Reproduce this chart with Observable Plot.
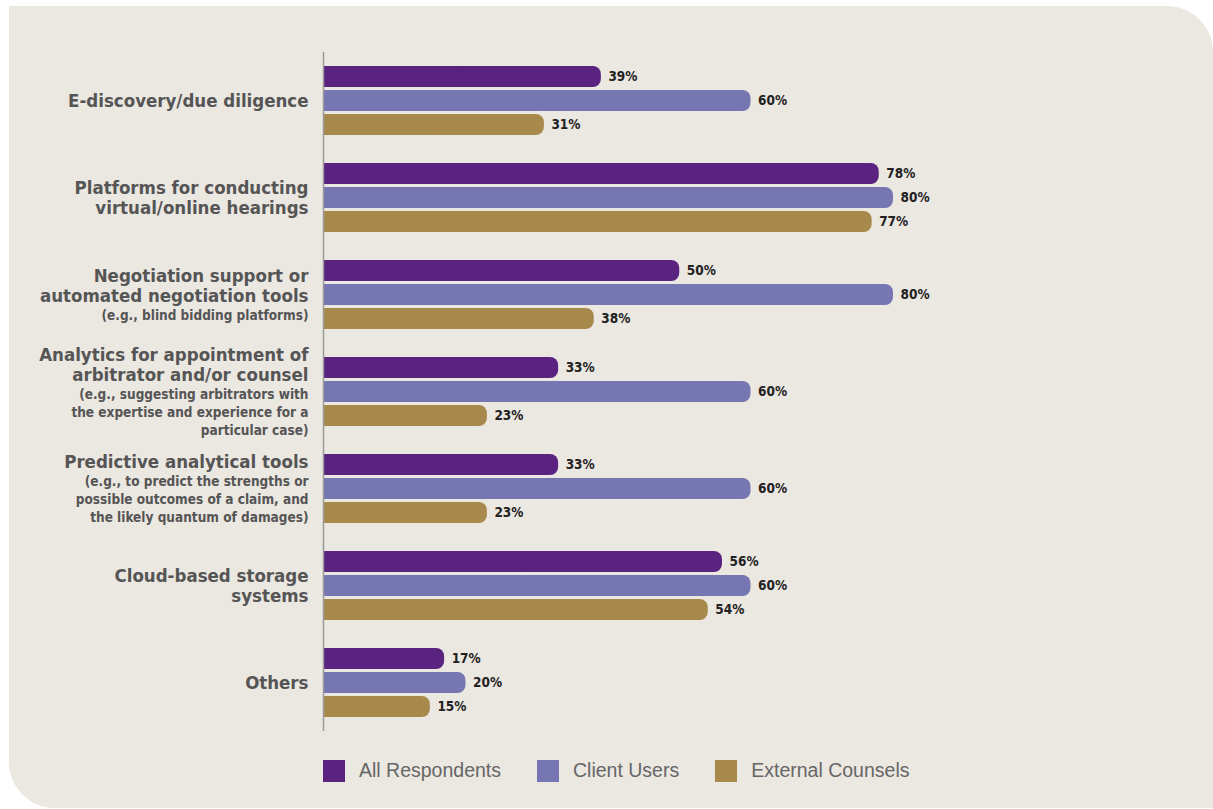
<!DOCTYPE html>
<html>
<head>
<meta charset="utf-8">
<script src="https://cdn.jsdelivr.net/npm/d3@7"></script>
<script src="https://cdn.jsdelivr.net/npm/@observablehq/plot@0.6"></script>
<style>
  html, body { margin: 0; padding: 0; background: #ffffff; }
  #wrap { position: relative; width: 1213px; height: 809px; overflow: hidden; }
  #panel { position: absolute; left: 9px; top: 6px; width: 1204px; height: 802px;
           background: #ebe7e1; border-radius: 0 46px 0 46px; }
  #chart { position: absolute; left: 0; top: 0; }
  #legend { position: absolute; left: 323px; top: 759px; display: flex; align-items: center;
            font-family: "Liberation Sans", Arial, sans-serif; font-size: 19.5px; color: #666; }
  .item { display: flex; align-items: center; margin-right: 36px; }
  .sw { width: 22px; height: 22px; margin-right: 14px; }
</style>
</head>
<body>
<div id="wrap">
  <div id="panel"></div>
  <div id="chart"></div>
  <div id="legend"></div>
</div>
<script>
// ---- data ----
const categoryTitles = [
  "E-discovery/due diligence",
  "Platforms for conducting\nvirtual/online hearings",
  "Negotiation support or\nautomated negotiation tools",
  "Analytics for appointment of\narbitrator and/or counsel",
  "Predictive analytical tools",
  "Cloud-based storage\nsystems",
  "Others"
];
const categoryNotes = [
  "",
  "",
  "(e.g., blind bidding platforms)",
  "(e.g., suggesting arbitrators with\nthe expertise and experience for a\nparticular case)",
  "(e.g., to predict the strengths or\npossible outcomes of a claim, and\nthe likely quantum of damages)",
  "",
  ""
];
const seriesNames = ["All Respondents", "Client Users", "External Counsels"];
const allRespondents = [39, 78, 50, 33, 33, 56, 17];
const clientUsers = [60, 80, 80, 60, 60, 60, 20];
const externalCounsels = [31, 77, 38, 23, 23, 54, 15];
const seriesColors = ["#5a2380", "#7676b2", "#a8894c"];

// ---- build table ----
const seriesValues = [allRespondents, clientUsers, externalCounsels];
const rows = [];
categoryTitles.forEach((cat, i) => {
  seriesNames.forEach((s, j) => rows.push({cat, series: s, value: seriesValues[j][i]}));
});

const FONT_B = '"DejaVu Sans Condensed", "Liberation Sans Narrow", sans-serif';
const titleLH = 20.5, noteLH = 18;

// label marks: one per line, vertically centered on each group
const labelMarks = [];
categoryTitles.forEach((cat, i) => {
  const tl = cat.split("\n");
  const nl = categoryNotes[i] ? categoryNotes[i].split("\n") : [];
  const H = tl.length * titleLH + nl.length * noteLH;
  let off = -H / 2;
  const lines = [
    ...tl.map(t => ({t, size: 18.5, lh: titleLH})),
    ...nl.map(t => ({t, size: 13.5, lh: noteLH}))
  ];
  lines.forEach(L => {
    const center = off + L.lh / 2;
    off += L.lh;
    labelMarks.push(Plot.text(rows, {
      filter: d => d.cat === cat && d.series === seriesNames[0],
      fy: "cat",
      frameAnchor: "left",
      textAnchor: "end",
      lineAnchor: "middle",
      dx: -15,
      dy: center,
      text: () => L.t,
      fontSize: L.size,
      fontWeight: "bold",
      fill: "#555"
    }));
  });
});

const chart = Plot.plot({
  width: 1213,
  height: 745,
  marginTop: 49,
  marginBottom: 11,
  marginLeft: 323,
  marginRight: 320,
  style: {background: "transparent", fontFamily: FONT_B, overflow: "visible"},
  x: {domain: [0, 80], axis: null},
  y: {domain: seriesNames, paddingInner: 0.12, paddingOuter: 0.517, axis: null},
  fy: {domain: categoryTitles, padding: 0, axis: null},
  color: {domain: seriesNames, range: seriesColors},
  marks: [
    Plot.barX(rows, {fy: "cat", y: "series", x: "value", fill: "series", rx: 8}),
    Plot.barX(rows, {fy: "cat", y: "series", x: d => d.value / 2, fill: "series"}),
    Plot.ruleX([0], {stroke: "#9a9a9a", strokeWidth: 1.5}),
    Plot.text(rows, {
      fy: "cat", y: "series", x: "value",
      text: d => d.value + "%",
      textAnchor: "start", dx: 7,
      fontSize: 13.5, fontWeight: "bold", fill: "#222"
    }),
    ...labelMarks
  ]
});
document.getElementById("chart").appendChild(chart);

// legend
const legend = document.getElementById("legend");
seriesNames.forEach((s, j) => {
  const it = document.createElement("div");
  it.className = "item";
  const sw = document.createElement("div");
  sw.className = "sw";
  sw.style.background = seriesColors[j];
  const tx = document.createElement("span");
  tx.textContent = s;
  it.appendChild(sw);
  it.appendChild(tx);
  legend.appendChild(it);
});
</script>
</body>
</html>
